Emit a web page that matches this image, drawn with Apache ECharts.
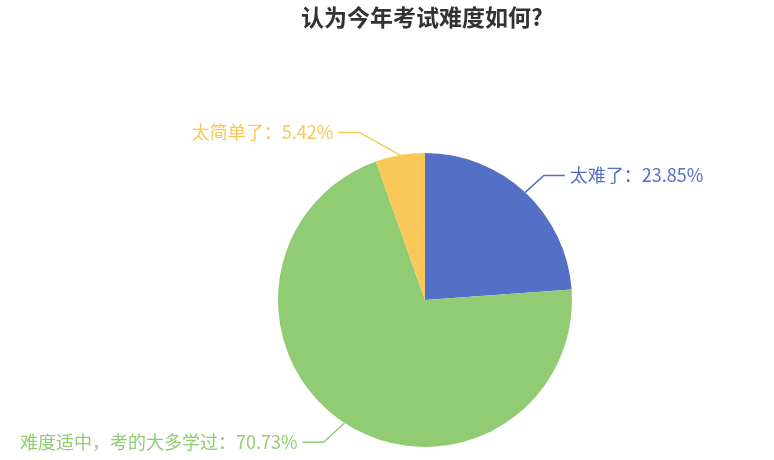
<!DOCTYPE html>
<html><head><meta charset="utf-8">
<script src="https://cdn.jsdelivr.net/npm/echarts@6/dist/echarts.min.js"></script>
<style>html,body{margin:0;padding:0;background:#fff}#c{width:774px;height:460px}</style>
</head><body><div id="c"></div>
<script>
const categories = ['太难了', '难度适中，考的大多学过', '太简单了'];
const values = [23.85, 70.73, 5.42];
const colors = ['#5470c6', '#91cc75', '#fac858'];

const CX = 425, CY = 300, R = 147, LEN = 23, LEN2 = 21, GAP = 5;
const chart = echarts.init(document.getElementById('c'));
chart.setOption({
  textStyle: { fontFamily: '"Noto Sans CJK SC", sans-serif' },
  title: {
    text: '认为今年考试难度如何?',
    left: 296, top: 1,
    textStyle: { fontSize: 23, fontWeight: 'bold', color: '#333', fontFamily: '"Noto Sans CJK SC", sans-serif' }
  },
  color: colors,
  series: [{
    type: 'pie',
    center: [CX, CY],
    radius: R,
    startAngle: 90,
    percentPrecision: 2,
    data: categories.map((n, i) => ({ name: n, value: values[i] })),
    label: { formatter: '{b}：{d}%', fontSize: 18, color: 'inherit' },
    labelLine: { length: LEN, length2: LEN2, lineStyle: { width: 1.5 } },
    // align label ends on a curve like older ECharts pie layouts
    labelLayout: function (p) {
      const pts = p.labelLinePoints;
      if (!pts) return {};
      const dir = pts[2][0] < CX ? -1 : 1;
      const y = pts[2][1];
      const dy = Math.abs(y - CY);
      const full = R + LEN + LEN2;
      const dx = dy < R + LEN ? Math.sqrt(full * full - dy * dy) : Math.abs(pts[2][0] - CX);
      const textX = CX + dir * dx;
      const endX = textX - dir * GAP;
      const midX = endX - dir * LEN2;
      return {
        x: textX,
        y: y,
        labelLinePoints: [pts[0].slice(), [midX, y], [endX, y]]
      };
    }
  }]
});
</script></body></html>
